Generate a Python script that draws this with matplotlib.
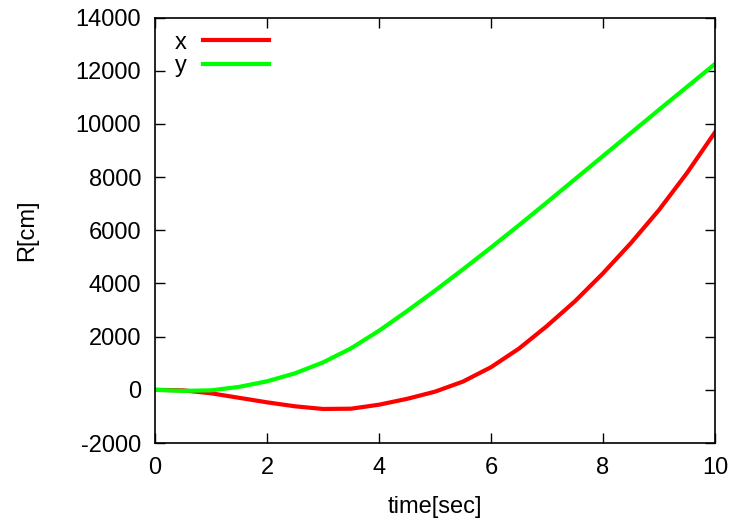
import numpy as np
import matplotlib.pyplot as plt

plt.rcParams['font.family'] = ['Liberation Sans', 'DejaVu Sans']
plt.rcParams['axes.unicode_minus'] = False

# values
t = [0, 0.5, 1, 1.5, 2, 2.5, 3, 3.5, 4, 4.5, 5,
     5.5, 6, 6.5, 7, 7.5, 8, 8.5, 9, 9.5, 10]
x_cm = [0, -20, -130, -300, -470, -620, -720, -710, -560, -340, -70,
        310, 850, 1550, 2400, 3330, 4380, 5520, 6760, 8150, 9680]
y_cm = [0, -40, -20, 110, 320, 620, 1030, 1560, 2220, 2960, 3730,
        4530, 5350, 6190, 7050, 7920, 8790, 9660, 10530, 11390, 12250]

fig = plt.figure(figsize=(7.34, 5.21), dpi=100)
ax = fig.add_axes([0.2112, 0.1497, 0.974 - 0.2112, 0.9664 - 0.1497])

ax.plot(t, x_cm, color='#ff0000', lw=3, label='x', solid_joinstyle='round')
ax.plot(t, y_cm, color='#00ff00', lw=3, label='y', solid_joinstyle='round')

ax.set_xlim(0, 10)
ax.set_ylim(-2000, 14000)
ax.set_xticks(np.arange(0, 11, 2))
ax.set_yticks(np.arange(-2000, 14001, 2000))
ax.tick_params(direction='in', length=7, width=1, top=True, right=True,
               labelsize=17)
ax.tick_params(axis='x', pad=10)
ax.tick_params(axis='y', pad=10)
for s in ax.spines.values():
    s.set_linewidth(1.2)

ax.set_xlabel('time[sec]', fontsize=17, labelpad=12)
ax.set_ylabel('R[cm]', fontsize=17, labelpad=27)

ax.legend(loc='upper left', frameon=False, markerfirst=False, fontsize=17,
          handlelength=2.8, handletextpad=0.7, labelspacing=0.05,
          borderaxespad=0.2, bbox_to_anchor=(0.01, 1.0))

fig.savefig('out.png', dpi=100)
